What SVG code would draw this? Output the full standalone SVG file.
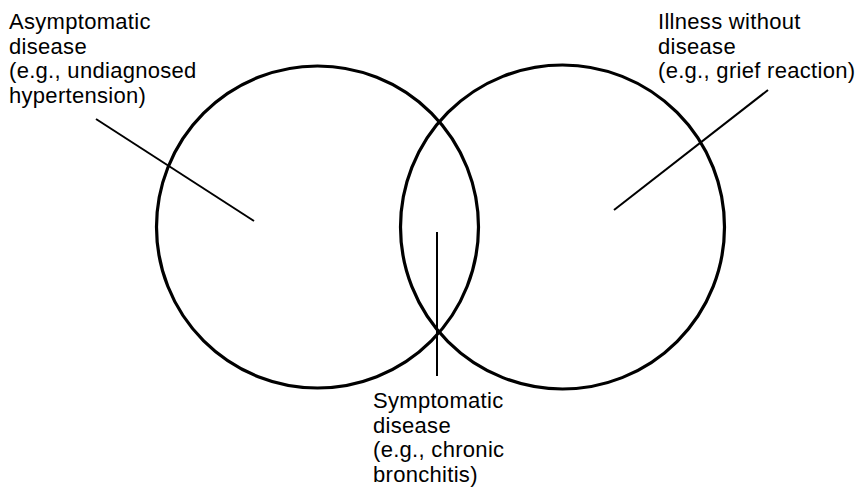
<svg xmlns="http://www.w3.org/2000/svg" width="862" height="490" viewBox="0 0 862 490">
<style>
.c{fill:none;stroke:#000;stroke-width:3.2}
.l{stroke:#000;stroke-width:2;fill:none}
text{font-family:"Liberation Sans",Arial,sans-serif;font-size:22px;letter-spacing:0.3px;fill:#000}
</style>
<rect width="862" height="490" fill="#fff"/>
<g id="left-circle"><circle class="c" cx="317.5" cy="227" r="161"/></g>
<g id="right-circle"><circle class="c" cx="562.5" cy="227" r="162"/></g>
<g id="connectors">
<line class="l" x1="96" y1="119" x2="254" y2="221"/>
<line class="l" x1="768" y1="90" x2="614" y2="210"/>
<line class="l" x1="437" y1="232" x2="437" y2="376"/>
</g>
<g id="asymptomatic">
<text x="9" y="29">Asymptomatic</text>
<text x="9" y="53.5">disease</text>
<text x="9" y="78">(e.g., undiagnosed</text>
<text x="9" y="102.5">hypertension)</text>
</g>
<g id="illness">
<text x="658" y="29">Illness without</text>
<text x="658" y="53.5">disease</text>
<text x="658" y="78">(e.g., grief reaction)</text>
</g>
<g id="symptomatic">
<text x="373" y="408">Symptomatic</text>
<text x="373" y="432.5">disease</text>
<text x="373" y="457">(e.g., chronic</text>
<text x="373" y="481.5">bronchitis)</text>
</g>
</svg>
